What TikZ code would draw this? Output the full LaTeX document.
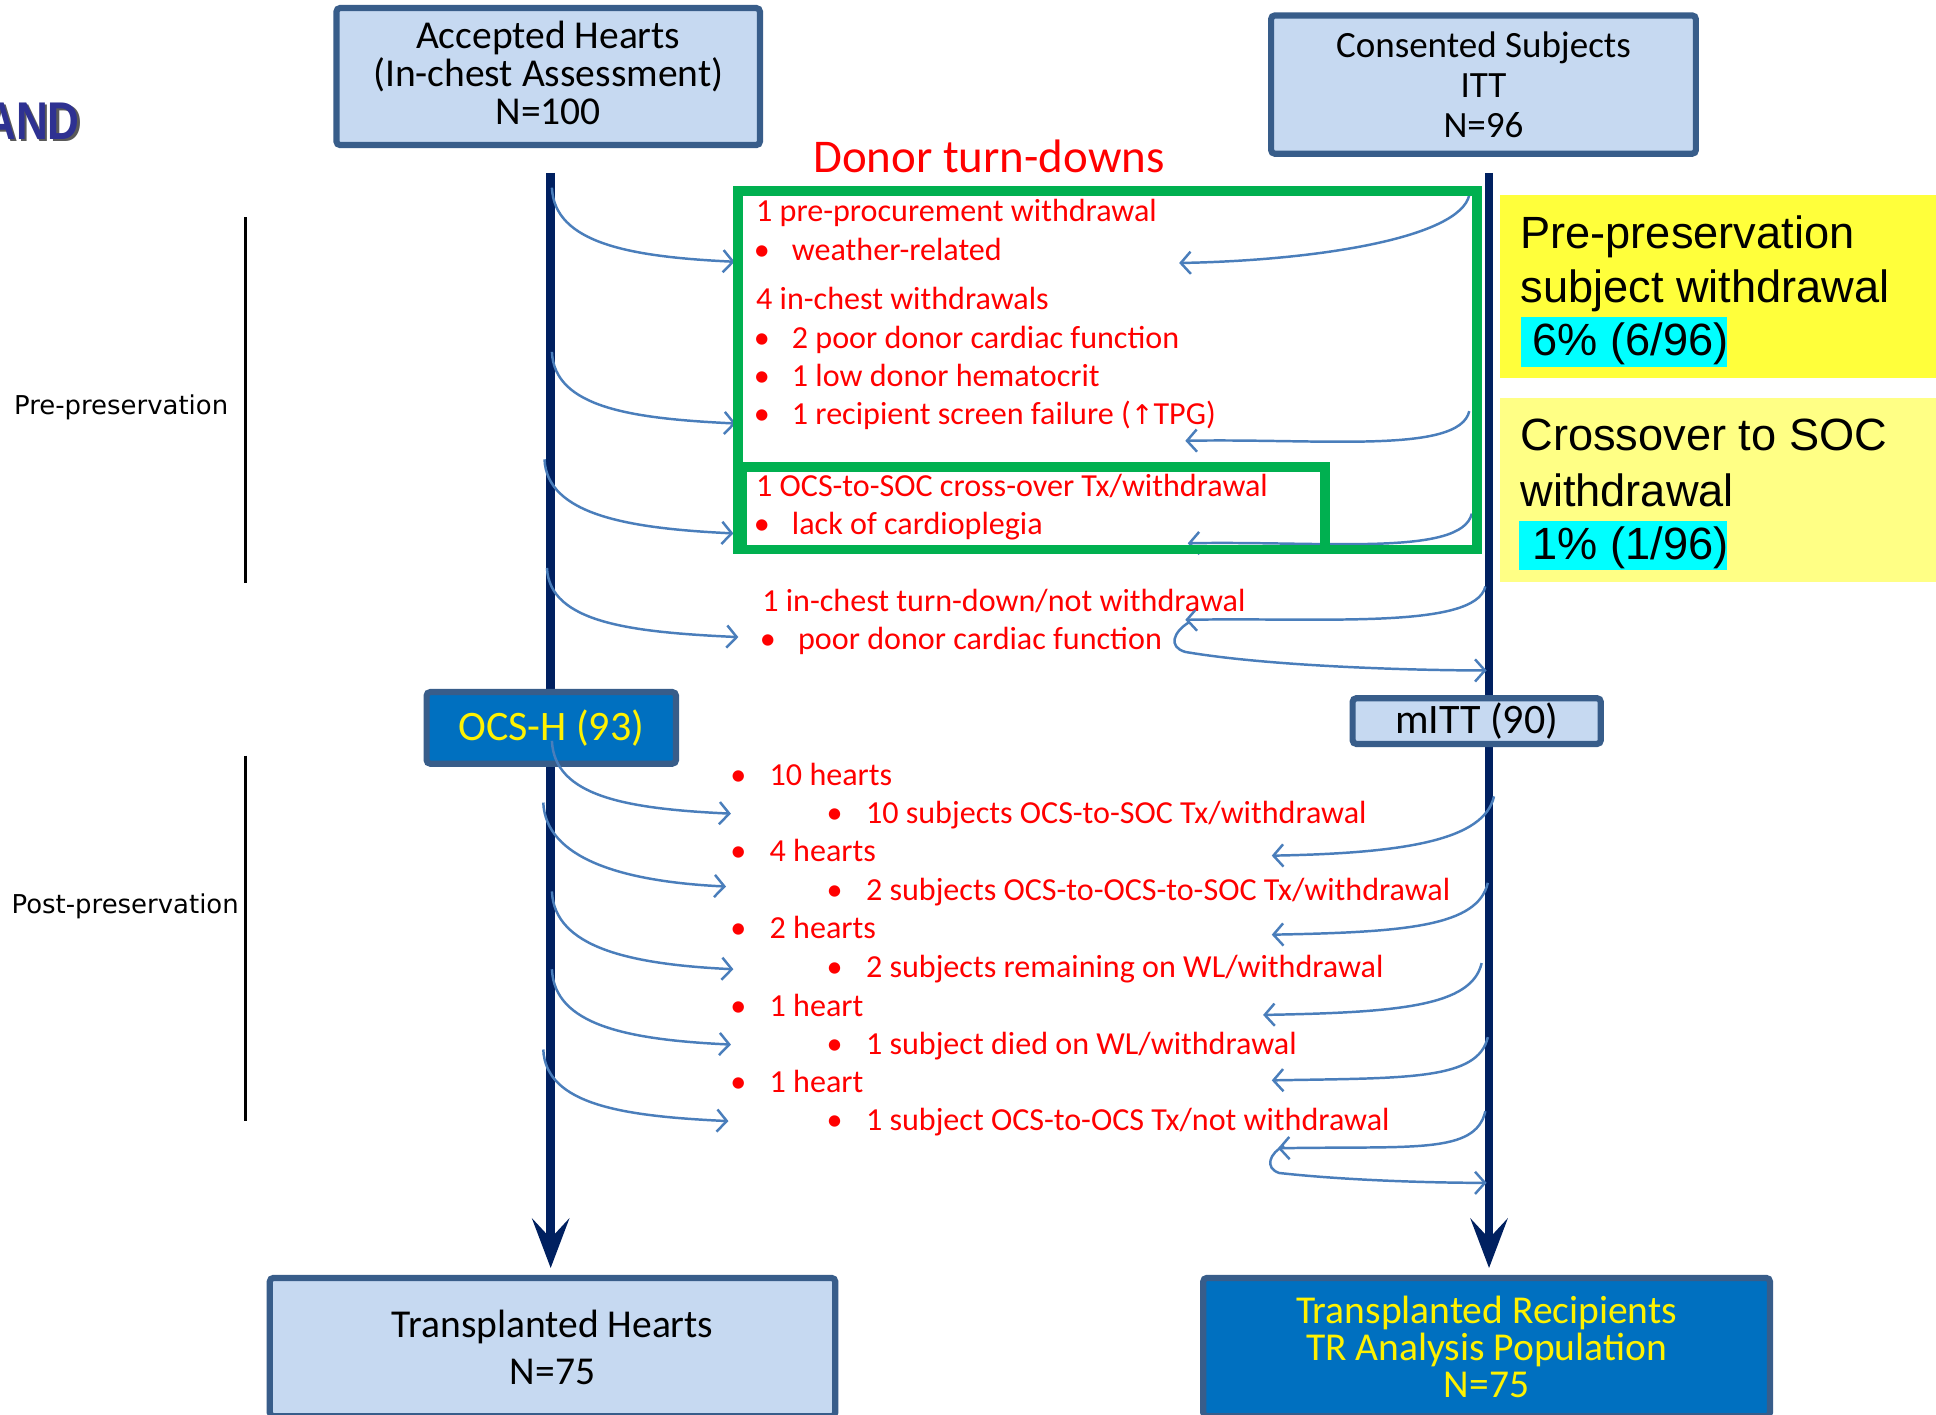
\documentclass[tikz,border=0pt]{standalone}
\usepackage{fontspec}
\setmainfont{Carlito}
\newfontfamily\arialfont{Liberation Sans}
\newfontfamily\narrowfont[FakeStretch=0.83]{Liberation Sans}
\newfontfamily\labelfont{DejaVu Sans}
\usetikzlibrary{arrows.meta,calc}

\definecolor{navy}{HTML}{002060}
\definecolor{boxedge}{HTML}{385D8A}
\definecolor{paleblue}{HTML}{C6D9F1}
\definecolor{midblue}{HTML}{0070C0}
\definecolor{linkblue}{HTML}{4A7EBB}
\definecolor{tgreen}{HTML}{00B050}
\definecolor{tred}{HTML}{FF0000}
\definecolor{hiyellow}{HTML}{FFFF3B}
\definecolor{paleyellow}{HTML}{FFFF85}
\definecolor{hicyan}{HTML}{00FFFF}
\definecolor{andblue}{HTML}{2E3192}

\tikzset{
  popbox/.style={draw=boxedge, line width=2.5pt, rounded corners=1.5pt, inner sep=0pt, align=center, text=black},
  lightbox/.style={popbox, fill=paleblue},
  darkbox/.style={popbox, fill=midblue, text=yellow},
  redtxt/.style={text=tred, anchor=base west, inner sep=0pt, font=\fontsize{13}{15}\selectfont},
  bul/.style={text=tred, anchor=base, inner sep=0pt, font=\fontsize{13}{15}\selectfont},
  link/.style={draw=linkblue, line width=1pt, -{Straight Barb[length=4pt,width=9pt]}},
  mainarrow/.style={draw=navy, line width=3.5pt, -{Stealth[length=20pt,width=15pt,inset=8pt]}},
  sidelabel/.style={font=\labelfont\fontsize{10.5}{12}\selectfont, anchor=base west, inner sep=0pt},
  yelltxt/.style={font=\arialfont\fontsize{18.3}{20}\selectfont, anchor=base west, inner sep=0pt},
}

\begin{document}
\begin{tikzpicture}[x=0.5pt,y=-0.5pt]
\useasboundingbox (0,0) rectangle (1568,1146);
\clip (0,0) rectangle (1568,1146);
\fill[white] (0,0) rectangle (1568,1146);

% title fragment at the left edge
\node[anchor=east, inner sep=0pt, text=black!65, font=\narrowfont\bfseries\fontsize{21.5}{22}\selectfont] at (67,100) {AND};
\node[name=andtxt, anchor=east, inner sep=0pt, text=andblue, font=\narrowfont\bfseries\fontsize{21.5}{22}\selectfont] at (65,98) {AND};

% phase brackets
\node[sidelabel, name=prelab] at (11,336) {Pre-preservation};
\node[sidelabel, name=postlab] at (9,740) {Post-preservation};
\draw[line width=1pt] (199,176) -- (199,472);
\draw[line width=1pt] (199,612) -- (199,908);

% summary panels
\fill[hiyellow] (1215,158) rectangle (1580,306);
\fill[paleyellow] (1215,322) rectangle (1580,471);
\fill[hicyan] (1232,257) rectangle (1399,297);
\fill[hicyan] (1230,422) rectangle (1399,462);
\node[yelltxt, name=y1] at (1231,201) {Pre-preservation};
\node[yelltxt, name=y2] at (1231,245) {subject withdrawal};
\node[yelltxt, name=y3] at (1241,288) {6\% (6/96)};
\node[yelltxt, name=y4] at (1231,365) {Crossover to SOC};
\node[yelltxt, name=y5] at (1231,410) {withdrawal};
\node[yelltxt, name=y6] at (1241,453) {1\% (1/96)};

% main flow lines
\coordinate (Ltop) at (446,140);
\coordinate (Lbot) at (446,1027);
\coordinate (Rtop) at (1206,140);
\coordinate (Rbot) at (1206,1027);
\draw[mainarrow] (Ltop) -- (Lbot);
\draw[mainarrow] (Rtop) -- (Rbot);

% population boxes
\node[lightbox, minimum width=171.5pt, minimum height=55.5pt,
  label={[align=center, inner sep=0pt, yshift=1.5pt, font=\fontsize{16}{15.5}\selectfont]center:{Accepted Hearts\\(In-chest Assessment)\\N=100}}] (acc) at (444,62) {};
\node[lightbox, minimum width=172pt, minimum height=56pt, font=\fontsize{15}{16.25}\selectfont] (cons) at (1201.5,68.5)
  {Consented Subjects\\ITT\\N=96};
\node[darkbox, minimum width=101pt, minimum height=29pt, font=\fontsize{17}{18}\selectfont] (ocs) at (446.5,589.5) {OCS-H (93)};
\node[lightbox, minimum width=100.5pt, minimum height=18.5pt, font=\fontsize{17}{18}\selectfont] (mitt) at (1196,584) {mITT (90)};
\node[lightbox, minimum width=229pt, minimum height=56pt, font=\fontsize{16}{19}\selectfont] (th) at (447.5,1091)
  {Transplanted Hearts\\N=75};
\node[darkbox, minimum width=229.5pt, minimum height=56pt, font=\fontsize{16}{15}\selectfont] (tr) at (1204,1091)
  {Transplanted Recipients\\TR Analysis Population\\N=75};

% connectors leaving the heart line
\foreach \i/\sx/\sy/\ex/\ey in {1/447/152/595/212, 2/447/285/596/343, 3/441/372/594/432, 4/443/460/598/516,
    5/447/600/592/659, 6/440/650/588/718, 7/447/722/594/785, 8/447/785/592/846, 9/440/850/590/908} {
  \coordinate (ls\i) at (\sx,\sy);
  \coordinate (le\i) at (\ex,\ey);
  \draw[link] (ls\i) .. controls ($(ls\i)+(2,45)$) and ($(le\i)+(-85,-4)$) .. (le\i);
}
% connectors leaving the subject line
\foreach \i/\sx/\sy/\ex/\ey in {1/1190/158/955/213, 2/1190/333/960/357, 3/1192/416/962/440, 4/1203/475/960/502,
    5/1210/645/1030/693, 6/1205/715/1030/757, 7/1200/780/1023/822, 8/1205/840/1030/875, 9/1203/900/1035/930} {
  \coordinate (rs\i) at (\sx,\sy);
  \coordinate (re\i) at (\ex,\ey);
  \draw[link] (rs\i) .. controls ($(rs\i)+(-8,35)$) and ($(re\i)+(110,-2)$) .. (re\i);
}
% returns to the subject line
\coordinate (hk1) at (963,504);
\coordinate (hb1) at (1204,543);
\draw[link] (hk1) .. controls (950,512) and (946,524) .. (960,528) .. controls (1030,540) and (1150,543) .. (hb1);
\coordinate (hk2) at (1040,928);
\coordinate (hb2) at (1204,958);
\draw[link] (hk2) .. controls (1028,934) and (1024,946) .. (1036,950) .. controls (1090,956) and (1160,958) .. (hb2);

% donor turn-down frames
\draw[tgreen, line width=4pt] (598,155) rectangle (1196,445);
\draw[tgreen, line width=4pt] (601,378) rectangle (1073,445);
\node[text=tred, anchor=base, inner sep=0pt, font=\fontsize{19}{20}\selectfont, name=dtd] at (801,140) {Donor turn-downs};

% donor turn-down reasons
\node[redtxt, name=g1] at (612,179) {1 pre-procurement withdrawal};
\node[bul, name=gb2] at (617,211) {•};
\node[redtxt, name=g2] at (641,211) {weather-related};
\node[redtxt, name=g3] at (612,251) {4 in-chest withdrawals};
\node[bul, name=gb4] at (617,282) {•};
\node[redtxt, name=g4] at (641,282) {2 poor donor cardiac function};
\node[bul, name=gb5] at (617,313) {•};
\node[redtxt, name=g5] at (641,313) {1 low donor hematocrit};
\node[bul, name=gb6] at (617,344) {•};
\node[redtxt, name=g6] at (641,344) {1 recipient screen failure ({\labelfont\fontsize{11}{13}\selectfont ↑}TPG)};
\node[redtxt, name=g7] at (612,402) {1 OCS-to-SOC cross-over Tx/withdrawal};
\node[bul, name=gb8] at (617,433) {•};
\node[redtxt, name=g8] at (641,433) {lack of cardioplegia};
\node[redtxt, name=t1] at (617,495) {1 in-chest turn-down/not withdrawal};
\node[bul, name=tb2] at (622,526) {•};
\node[redtxt, name=t2] at (646,526) {poor donor cardiac function};

% post-preservation reasons
\foreach \i/\bx/\tx/\by/\txt in {1/598/623/636/10 hearts,
    2/676/701/667/10 subjects OCS-to-SOC Tx\slash withdrawal,
    3/598/623/698/4 hearts,
    4/676/701/729/2 subjects OCS-to-OCS-to-SOC Tx\slash withdrawal,
    5/598/623/760/2 hearts,
    6/676/701/792/2 subjects remaining on WL\slash withdrawal,
    7/598/623/823/1 heart,
    8/676/701/854/1 subject died on WL\slash withdrawal,
    9/598/623/885/1 heart,
    10/676/701/916/1 subject OCS-to-OCS Tx\slash not withdrawal} {
  \node[bul, name=pb\i] at (\bx,\by) {•};
  \node[redtxt, name=p\i] at (\tx,\by) {\txt};
}
\end{tikzpicture}
\end{document}
